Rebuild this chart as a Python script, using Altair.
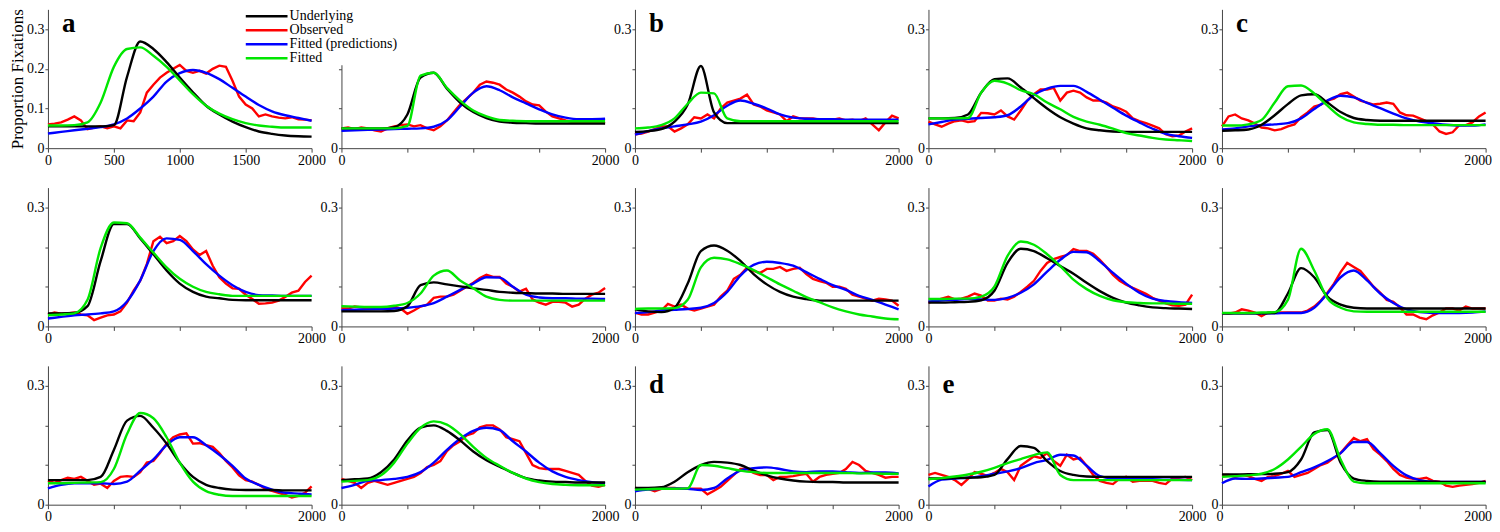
import altair as alt
import pandas as pd

# ---------------- data ----------------
T100 = list(range(0, 2001, 100))   # grid of the smooth curves (ms)
T50 = list(range(0, 2001, 50))     # grid of the observed curves (ms)
SERIES = ["Underlying", "Observed", "Fitted (predictions)", "Fitted"]
COLORS = ["#000000", "#ff0000", "#0000ff", "#00e600"]
X_TICKS = [0, 500, 1000, 1500, 2000]
Y_TICKS = [0, 0.1, 0.2, 0.3]
LETTERS = ["a", "", "b", "", "c", "", "", "", "", "", "", "", "d", "e", ""]

P01_UND = [0.055,0.055,0.055,0.055,0.055,0.058,0.18,0.269,0.25,0.217,0.178,0.141,0.107,0.085,0.067,0.053,0.042,0.036,0.032,0.030,0.029]
P01_FIT = [0.057,0.057,0.058,0.065,0.115,0.205,0.25,0.254,0.233,0.205,0.171,0.136,0.107,0.087,0.073,0.063,0.057,0.054,0.052,0.052,0.052]
P01_PRED = [0.037,0.041,0.045,0.049,0.053,0.06,0.075,0.1,0.13,0.168,0.189,0.197,0.19,0.174,0.152,0.13,0.109,0.093,0.083,0.076,0.069]
P01_OBS = [0.06,0.062,0.065,0.072,0.08,0.07,0.048,0.052,0.055,0.05,0.055,0.05,0.07,0.068,0.09,0.14,0.16,0.178,0.19,0.2,0.21,0.195,0.19,0.195,0.188,0.2,0.208,0.205,0.17,0.13,0.11,0.1,0.08,0.085,0.08,0.077,0.075,0.078,0.073,0.072,0.07]

P02_UND = [0.05,0.05,0.05,0.05,0.053,0.085,0.178,0.19,0.15,0.115,0.091,0.076,0.067,0.064,0.063,0.062,0.062,0.062,0.062,0.062,0.062]
P02_FIT = [0.05,0.05,0.05,0.05,0.05,0.056,0.183,0.19,0.152,0.12,0.095,0.08,0.071,0.069,0.068,0.068,0.068,0.068,0.068,0.068,0.068]
P02_PRED = [0.044,0.045,0.046,0.047,0.048,0.049,0.05,0.054,0.07,0.105,0.14,0.156,0.146,0.128,0.113,0.098,0.085,0.077,0.073,0.073,0.074]
P02_OBS = [0.05,0.052,0.048,0.052,0.05,0.045,0.042,0.05,0.055,0.058,0.06,0.055,0.058,0.05,0.045,0.055,0.07,0.09,0.11,0.125,0.14,0.16,0.168,0.165,0.16,0.148,0.14,0.13,0.118,0.11,0.108,0.092,0.08,0.075,0.07,0.066,0.065,0.066,0.064,0.065,0.063]

P03_UND = [0.041,0.043,0.048,0.067,0.11,0.207,0.09,0.063,0.063,0.063,0.063,0.063,0.063,0.063,0.063,0.063,0.063,0.063,0.063,0.063,0.063]
P03_FIT = [0.05,0.052,0.058,0.075,0.112,0.14,0.138,0.075,0.068,0.068,0.068,0.068,0.068,0.068,0.068,0.068,0.068,0.068,0.068,0.068,0.068]
P03_PRED = [0.034,0.043,0.05,0.055,0.06,0.067,0.083,0.107,0.12,0.112,0.1,0.085,0.077,0.074,0.073,0.073,0.072,0.072,0.072,0.072,0.072]
P03_OBS = [0.035,0.037,0.042,0.048,0.055,0.055,0.042,0.05,0.06,0.078,0.075,0.085,0.075,0.1,0.115,0.12,0.125,0.135,0.11,0.105,0.095,0.09,0.085,0.068,0.08,0.075,0.075,0.075,0.072,0.07,0.072,0.075,0.07,0.072,0.068,0.075,0.06,0.045,0.065,0.082,0.075]

P04_UND = [0.075,0.075,0.076,0.085,0.14,0.174,0.176,0.153,0.126,0.1,0.078,0.062,0.05,0.045,0.042,0.041,0.041,0.041,0.041,0.041,0.041]
P04_FIT = [0.075,0.075,0.075,0.076,0.14,0.17,0.163,0.146,0.136,0.115,0.098,0.079,0.067,0.059,0.049,0.038,0.032,0.026,0.022,0.02,0.018]
P04_PRED = [0.06,0.066,0.072,0.074,0.076,0.078,0.083,0.105,0.134,0.15,0.157,0.157,0.142,0.122,0.102,0.082,0.065,0.049,0.036,0.03,0.026]
P04_OBS = [0.067,0.06,0.054,0.062,0.068,0.07,0.066,0.068,0.089,0.088,0.085,0.095,0.08,0.072,0.095,0.12,0.136,0.148,0.148,0.152,0.12,0.14,0.145,0.14,0.128,0.12,0.12,0.115,0.105,0.1,0.092,0.075,0.068,0.063,0.057,0.05,0.035,0.03,0.032,0.042,0.05]

P05_UND = [0.044,0.045,0.047,0.059,0.083,0.111,0.133,0.136,0.115,0.091,0.076,0.071,0.069,0.069,0.069,0.069,0.069,0.069,0.069,0.069,0.069]
P05_FIT = [0.057,0.057,0.06,0.071,0.115,0.156,0.158,0.138,0.107,0.079,0.065,0.061,0.059,0.059,0.058,0.058,0.058,0.058,0.058,0.058,0.058]
P05_PRED = [0.047,0.05,0.055,0.058,0.06,0.063,0.075,0.099,0.12,0.132,0.128,0.114,0.101,0.087,0.075,0.067,0.063,0.059,0.057,0.057,0.06]
P05_OBS = [0.055,0.08,0.085,0.075,0.07,0.062,0.052,0.05,0.045,0.048,0.055,0.06,0.078,0.09,0.105,0.11,0.12,0.125,0.136,0.14,0.13,0.12,0.115,0.11,0.112,0.115,0.112,0.09,0.083,0.082,0.075,0.068,0.06,0.042,0.036,0.04,0.058,0.058,0.065,0.08,0.09]

P06_UND = [0.033,0.033,0.034,0.051,0.165,0.258,0.258,0.222,0.182,0.141,0.108,0.087,0.075,0.071,0.067,0.066,0.066,0.066,0.066,0.066,0.066]
P06_FIT = [0.028,0.03,0.033,0.067,0.198,0.262,0.26,0.224,0.186,0.149,0.12,0.1,0.087,0.081,0.077,0.077,0.077,0.077,0.077,0.077,0.077]
P06_PRED = [0.02,0.024,0.028,0.03,0.033,0.038,0.063,0.116,0.19,0.222,0.218,0.19,0.157,0.128,0.104,0.087,0.079,0.078,0.077,0.077,0.077]
P06_OBS = [0.03,0.035,0.032,0.033,0.035,0.03,0.028,0.016,0.022,0.028,0.03,0.038,0.06,0.09,0.115,0.157,0.215,0.226,0.21,0.215,0.228,0.215,0.194,0.18,0.19,0.153,0.124,0.108,0.096,0.095,0.08,0.069,0.057,0.058,0.06,0.065,0.074,0.085,0.09,0.112,0.128]

P07_UND = [0.038,0.038,0.038,0.038,0.039,0.051,0.104,0.111,0.106,0.101,0.096,0.092,0.087,0.085,0.084,0.083,0.083,0.082,0.082,0.082,0.082]
P07_FIT = [0.051,0.05,0.049,0.049,0.052,0.059,0.083,0.128,0.141,0.116,0.096,0.075,0.067,0.065,0.065,0.065,0.065,0.065,0.065,0.065,0.065]
P07_PRED = [0.041,0.042,0.043,0.044,0.045,0.047,0.051,0.059,0.075,0.092,0.108,0.124,0.123,0.1,0.08,0.073,0.071,0.071,0.07,0.07,0.069]
P07_OBS = [0.045,0.045,0.05,0.048,0.045,0.048,0.046,0.045,0.05,0.045,0.032,0.04,0.05,0.055,0.072,0.075,0.075,0.08,0.09,0.1,0.11,0.122,0.13,0.125,0.125,0.108,0.1,0.088,0.095,0.068,0.06,0.055,0.062,0.062,0.06,0.05,0.055,0.07,0.08,0.085,0.097]

P08_UND = [0.043,0.038,0.036,0.047,0.108,0.19,0.204,0.191,0.165,0.132,0.106,0.087,0.075,0.069,0.065,0.065,0.065,0.065,0.065,0.065,0.065]
P08_FIT = [0.044,0.045,0.045,0.046,0.067,0.149,0.173,0.169,0.157,0.142,0.124,0.106,0.09,0.074,0.061,0.048,0.038,0.03,0.025,0.02,0.018]
P08_PRED = [0.034,0.036,0.04,0.042,0.044,0.047,0.059,0.087,0.128,0.155,0.163,0.16,0.153,0.137,0.12,0.104,0.092,0.077,0.067,0.055,0.043]
P08_OBS = [0.035,0.03,0.03,0.035,0.04,0.057,0.05,0.055,0.045,0.04,0.045,0.05,0.055,0.075,0.09,0.12,0.13,0.148,0.14,0.135,0.145,0.145,0.15,0.14,0.145,0.148,0.132,0.12,0.114,0.11,0.1,0.1,0.095,0.08,0.075,0.07,0.065,0.07,0.068,0.065,0.052]

P09_UND = [0.06,0.06,0.061,0.062,0.066,0.09,0.16,0.196,0.19,0.172,0.152,0.133,0.11,0.089,0.072,0.06,0.053,0.048,0.046,0.045,0.044]
P09_FIT = [0.069,0.069,0.07,0.07,0.075,0.1,0.178,0.214,0.206,0.182,0.152,0.118,0.094,0.077,0.066,0.061,0.059,0.058,0.058,0.057,0.057]
P09_PRED = [0.063,0.065,0.067,0.069,0.068,0.067,0.072,0.085,0.106,0.138,0.168,0.188,0.187,0.164,0.135,0.108,0.085,0.07,0.064,0.061,0.059]
P09_OBS = [0.06,0.065,0.07,0.075,0.068,0.07,0.075,0.083,0.078,0.065,0.065,0.07,0.068,0.075,0.087,0.1,0.115,0.14,0.16,0.17,0.175,0.18,0.195,0.19,0.19,0.183,0.168,0.15,0.13,0.115,0.105,0.097,0.09,0.082,0.072,0.065,0.058,0.053,0.052,0.055,0.08]

P10_UND = [0.033,0.033,0.033,0.033,0.034,0.083,0.147,0.124,0.075,0.055,0.047,0.045,0.045,0.045,0.045,0.045,0.045,0.045,0.045,0.045,0.045]
P10_FIT = [0.034,0.034,0.034,0.035,0.036,0.067,0.196,0.141,0.071,0.047,0.038,0.037,0.037,0.037,0.037,0.037,0.037,0.037,0.037,0.037,0.037]
P10_PRED = [0.033,0.033,0.033,0.033,0.033,0.034,0.034,0.047,0.083,0.124,0.141,0.116,0.083,0.059,0.043,0.036,0.034,0.034,0.034,0.035,0.038]
P10_OBS = [0.033,0.032,0.035,0.043,0.04,0.035,0.026,0.035,0.035,0.035,0.035,0.035,0.035,0.04,0.05,0.065,0.085,0.108,0.137,0.16,0.15,0.14,0.12,0.1,0.085,0.067,0.062,0.048,0.03,0.03,0.022,0.018,0.028,0.035,0.045,0.045,0.04,0.05,0.045,0.045,0.045]

P11_UND = [0.062,0.062,0.062,0.062,0.07,0.138,0.212,0.224,0.194,0.154,0.106,0.07,0.05,0.042,0.038,0.037,0.037,0.037,0.036,0.036,0.036]
P11_FIT = [0.054,0.054,0.055,0.056,0.057,0.09,0.178,0.231,0.218,0.17,0.106,0.058,0.034,0.025,0.022,0.022,0.022,0.022,0.022,0.022,0.022]
P11_PRED = [0.041,0.05,0.054,0.054,0.054,0.052,0.058,0.086,0.114,0.15,0.17,0.17,0.15,0.126,0.098,0.066,0.05,0.038,0.03,0.028,0.026]
P11_OBS = [0.06,0.055,0.062,0.068,0.065,0.07,0.06,0.05,0.053,0.042,0.06,0.07,0.072,0.07,0.082,0.106,0.11,0.13,0.154,0.17,0.177,0.18,0.154,0.155,0.15,0.146,0.13,0.11,0.094,0.074,0.062,0.058,0.05,0.04,0.035,0.03,0.025,0.018,0.022,0.03,0.046]

P12_UND = [0.062,0.064,0.066,0.082,0.114,0.162,0.194,0.2,0.186,0.162,0.134,0.112,0.096,0.08,0.067,0.061,0.058,0.057,0.056,0.056,0.056]
P12_FIT = [0.058,0.06,0.062,0.074,0.106,0.154,0.194,0.21,0.202,0.178,0.146,0.118,0.098,0.08,0.066,0.057,0.052,0.05,0.049,0.049,0.049]
P12_PRED = [0.042,0.05,0.06,0.062,0.065,0.07,0.082,0.106,0.138,0.166,0.186,0.194,0.188,0.16,0.134,0.106,0.084,0.07,0.062,0.057,0.054]
P12_OBS = [0.065,0.06,0.055,0.042,0.055,0.06,0.055,0.05,0.055,0.06,0.065,0.07,0.08,0.095,0.1,0.11,0.135,0.15,0.16,0.175,0.18,0.195,0.2,0.2,0.19,0.17,0.165,0.16,0.13,0.1,0.092,0.09,0.09,0.09,0.085,0.08,0.075,0.06,0.048,0.045,0.05]

P13_UND = [0.042,0.042,0.044,0.058,0.082,0.1,0.108,0.106,0.1,0.086,0.074,0.066,0.061,0.058,0.057,0.057,0.056,0.056,0.056,0.056,0.056]
P13_FIT = [0.038,0.039,0.04,0.04,0.041,0.1,0.098,0.092,0.086,0.082,0.08,0.08,0.08,0.08,0.08,0.08,0.08,0.079,0.079,0.078,0.078]
P13_PRED = [0.034,0.038,0.04,0.041,0.04,0.037,0.042,0.066,0.086,0.092,0.094,0.09,0.084,0.082,0.084,0.084,0.082,0.08,0.081,0.081,0.079]
P13_OBS = [0.042,0.04,0.04,0.034,0.04,0.042,0.042,0.04,0.04,0.04,0.04,0.026,0.035,0.045,0.06,0.075,0.09,0.09,0.08,0.075,0.075,0.062,0.07,0.07,0.072,0.075,0.078,0.058,0.07,0.075,0.078,0.08,0.09,0.108,0.1,0.085,0.08,0.075,0.068,0.07,0.07]

P14_UND = [0.066,0.066,0.067,0.068,0.069,0.075,0.115,0.148,0.143,0.11,0.085,0.075,0.071,0.07,0.07,0.07,0.07,0.07,0.07,0.07,0.07]
P14_FIT = [0.064,0.067,0.071,0.076,0.083,0.093,0.105,0.115,0.125,0.132,0.075,0.062,0.062,0.062,0.062,0.062,0.062,0.062,0.062,0.062,0.062]
P14_PRED = [0.046,0.063,0.066,0.068,0.072,0.078,0.084,0.092,0.105,0.113,0.126,0.124,0.098,0.072,0.066,0.065,0.064,0.064,0.063,0.063,0.062]
P14_OBS = [0.075,0.08,0.075,0.07,0.062,0.05,0.065,0.082,0.078,0.072,0.08,0.09,0.082,0.062,0.098,0.11,0.122,0.118,0.13,0.11,0.098,0.126,0.114,0.118,0.098,0.075,0.06,0.055,0.052,0.066,0.07,0.058,0.06,0.06,0.06,0.055,0.052,0.066,0.068,0.07,0.062]

P15_UND = [0.076,0.076,0.077,0.077,0.078,0.082,0.114,0.182,0.188,0.106,0.066,0.06,0.058,0.058,0.058,0.058,0.058,0.057,0.057,0.057,0.057]
P15_FIT = [0.07,0.072,0.074,0.078,0.09,0.114,0.146,0.178,0.19,0.114,0.058,0.054,0.054,0.054,0.054,0.054,0.054,0.054,0.054,0.054,0.054]
P15_PRED = [0.054,0.066,0.065,0.066,0.068,0.07,0.082,0.094,0.11,0.13,0.158,0.158,0.13,0.098,0.074,0.062,0.058,0.057,0.057,0.057,0.057]
P15_OBS = [0.075,0.075,0.07,0.075,0.072,0.065,0.06,0.07,0.072,0.078,0.085,0.07,0.075,0.08,0.09,0.1,0.106,0.118,0.13,0.15,0.168,0.16,0.165,0.14,0.126,0.11,0.09,0.075,0.068,0.065,0.065,0.068,0.06,0.058,0.048,0.045,0.048,0.05,0.052,0.055,0.06]

PANELS = [
    (P01_UND, P01_OBS, P01_PRED, P01_FIT), (P02_UND, P02_OBS, P02_PRED, P02_FIT),
    (P03_UND, P03_OBS, P03_PRED, P03_FIT), (P04_UND, P04_OBS, P04_PRED, P04_FIT),
    (P05_UND, P05_OBS, P05_PRED, P05_FIT), (P06_UND, P06_OBS, P06_PRED, P06_FIT),
    (P07_UND, P07_OBS, P07_PRED, P07_FIT), (P08_UND, P08_OBS, P08_PRED, P08_FIT),
    (P09_UND, P09_OBS, P09_PRED, P09_FIT), (P10_UND, P10_OBS, P10_PRED, P10_FIT),
    (P11_UND, P11_OBS, P11_PRED, P11_FIT), (P12_UND, P12_OBS, P12_PRED, P12_FIT),
    (P13_UND, P13_OBS, P13_PRED, P13_FIT), (P14_UND, P14_OBS, P14_PRED, P14_FIT),
    (P15_UND, P15_OBS, P15_PRED, P15_FIT),
]

# ---------------- styling ----------------
FONT = "Liberation Serif"
W, H = 264, 139
AXIS_COLOR = "#444444"

LEGEND = alt.Legend(
    orient="none", legendX=198, legendY=0, title=None,
    symbolType="M-3.8,0H3.8", symbolSize=121, symbolStrokeWidth=2.5,
    symbolOffset=14, labelOffset=16, labelFont=FONT, labelFontSize=14,
    labelColor="black", rowPadding=0, padding=0, fillColor="white",
    labelLimit=300,
)


def make_panel(i, und, obs, pred, fit):
    rows = []
    for t, v in zip(T50, obs):
        rows.append({"t": t, "v": v, "series": "Observed"})
    for name, arr in (("Fitted (predictions)", pred), ("Underlying", und), ("Fitted", fit)):
        for t, v in zip(T100, arr):
            rows.append({"t": t, "v": v, "series": name})
    df = pd.DataFrame(rows)

    first = i == 0
    col = i % 5
    xaxis_kw = dict(values=X_TICKS, format="d", tickSize=4, labelPadding=1,
                    labelOverlap=False, grid=False, title=None)
    if not first:
        xaxis_kw["labelExpr"] = "datum.value == 0 || datum.value == 2000 ? datum.label : ''"
    if col == 4:
        xaxis_kw["labelFlush"] = True
        xaxis_kw["labelFlushOffset"] = 6
    else:
        xaxis_kw["labelFlush"] = False
    yaxis_kw = dict(values=Y_TICKS, format=".1~f", tickSize=3, labelPadding=1,
                    labelOverlap=False, grid=False)
    if first:
        yaxis_kw["title"] = "Proportion Fixations"
        yaxis_kw["titlePadding"] = 0
    elif i == 1:
        # the legend box covers the upper part of this axis
        yaxis_kw["title"] = None
        yaxis_kw["labelExpr"] = "datum.value < 0.05 ? datum.label : ''"
    else:
        yaxis_kw["title"] = None
        yaxis_kw["labelExpr"] = "datum.value < 0.05 || datum.value > 0.25 ? datum.label : ''"

    x = alt.X("t:Q", scale=alt.Scale(domain=[0, 2000], nice=False), axis=alt.Axis(**xaxis_kw))
    y = alt.Y("v:Q", scale=alt.Scale(domain=[0, 0.35], nice=False), axis=alt.Axis(**yaxis_kw))
    color = alt.Color("series:N", scale=alt.Scale(domain=SERIES, range=COLORS),
                      legend=LEGEND if first else None)

    base = alt.Chart(df)
    layers = []
    for name, interp in (("Observed", "linear"), ("Fitted (predictions)", "monotone"),
                         ("Underlying", "monotone"), ("Fitted", "monotone")):
        layers.append(
            base.transform_filter(alt.datum.series == name)
            .mark_line(interpolate=interp, strokeWidth=2.4)
            .encode(x=x, y=y, color=color)
        )
    letter = LETTERS[i]
    if letter:
        row = i // 5
        layers.append(
            alt.Chart(pd.DataFrame({"label": [letter]}))
            .mark_text(font=FONT, fontSize=27, fontWeight="bold", align="left",
                       baseline="alphabetic", color="black")
            .encode(text="label:N", x=alt.value(14), y=alt.value(23 if row == 0 else 27))
        )
    return alt.layer(*layers).properties(width=W, height=H)


panels = [make_panel(i, *p) for i, p in enumerate(PANELS)]

chart = alt.concat(
    *panels, columns=5, spacing={"row": 39.5, "column": 29.9}, bounds="flush"
).properties(padding=0).configure_view(stroke=None).configure_axis(
    labelFont=FONT, labelFontSize=14, labelColor="black",
    titleFont=FONT, titleFontSize=17, titleFontWeight="normal", titleColor="black",
    domainColor=AXIS_COLOR, tickColor=AXIS_COLOR, domainWidth=1, tickWidth=1,
)

chart.save("out.html", embed_options={"renderer": "svg", "actions": False})
